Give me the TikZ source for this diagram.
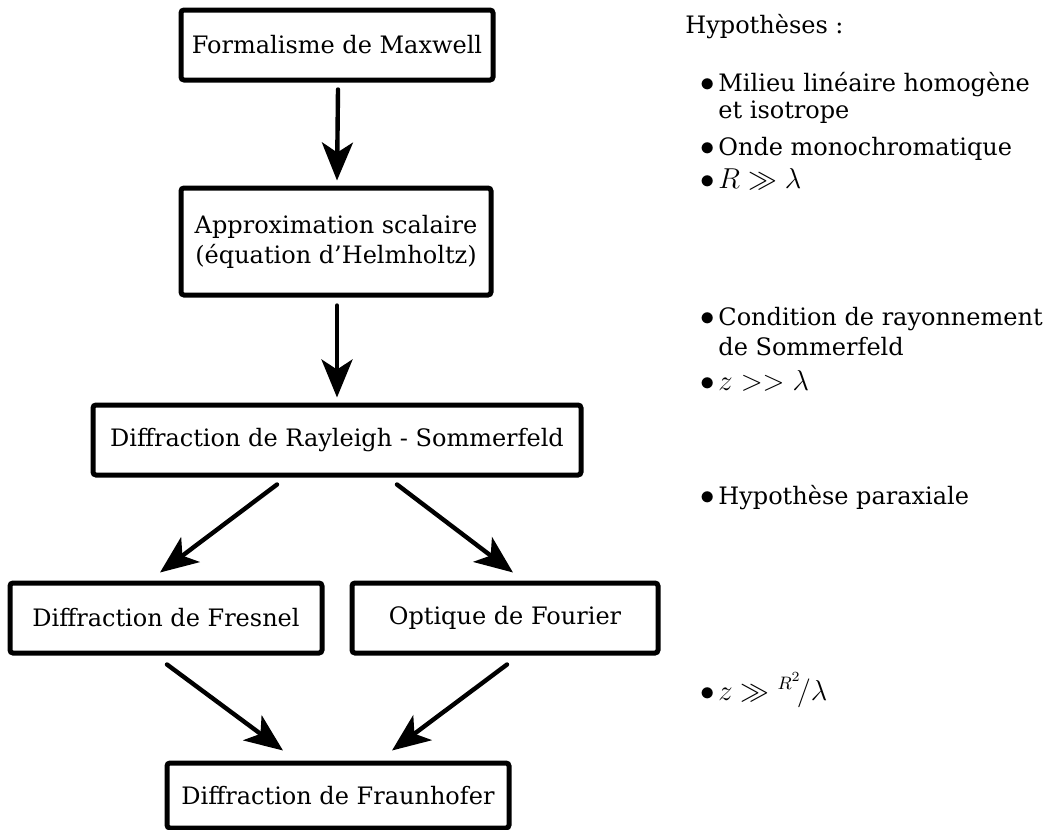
\documentclass[tikz,border=0pt]{standalone}
\usepackage{fontspec}
\setmainfont{DejaVu Serif}
\DeclareMathSizes{12}{13.5}{9.5}{7}
\usetikzlibrary{arrows.meta}
\begin{document}
\begin{tikzpicture}[x=0.5pt,y=-0.5pt,
  box/.style={draw, line width=2.5pt, rounded corners=1.5pt, minimum height=35pt,
    inner sep=0pt, align=center, font=\fontsize{12}{15}\selectfont},
  arr/.style={line width=2.2pt, line cap=round, -{Stealth[length=19pt,width=15.5pt,inset=5pt]}},
  hyp/.style={anchor=base west, inner sep=0pt, font=\fontsize{12}{15}\selectfont}]
\useasboundingbox (0,0) rectangle (1061,830);
% boxes
\node[box, minimum width=156pt] (b1) at (337,45) {Formalisme de Maxwell};
\node[box, minimum width=155pt, minimum height=53.5pt] (b2) at (336,241.5) {Approximation scalaire\\(équation d'Helmholtz)};
\node[box, minimum width=244pt] (b3) at (337,440) {Diffraction de Rayleigh - Sommerfeld};
\node[box, minimum width=156pt] (fr) at (166,618) {Diffraction de Fresnel};
\node[box, minimum width=153pt] (fo) at (505,618) {Optique de Fourier};
\node[box, minimum width=171pt, minimum height=32.5pt] (fh) at (338,795.5) {Diffraction de Fraunhofer};
% arrows
\draw[arr] ([xshift=0.5pt,yshift=-3.5pt]b1.south) -- ([xshift=0.5pt,yshift=2.5pt]b2.north);
\draw[arr] ([xshift=0.5pt,yshift=-4pt]b2.south) -- ([yshift=2.5pt]b3.north);
\draw[arr] ([xshift=-30pt,yshift=-3.5pt]b3.south) -- ([xshift=-3pt,yshift=4pt]fr.north);
\draw[arr] ([xshift=30pt,yshift=-3.5pt]b3.south) -- ([xshift=4pt,yshift=4pt]fo.north);
\draw[arr] ([xshift=0.5pt,yshift=-4.5pt]fr.south) -- ([xshift=-27.5pt,yshift=5pt]fh.north);
\draw[arr] ([xshift=1pt,yshift=-4.5pt]fo.south) -- ([xshift=27pt,yshift=5pt]fh.north);
% hypotheses
\node[hyp] (h0) at (685,33) {Hypothèses~:};
\node[hyp] (h1) at (718,91) {\llap{$\bullet$\,}Milieu linéaire homogène};
\node[hyp] (h1b) at (718,118) {et isotrope};
\node[hyp] (h2) at (718,155) {\llap{$\bullet$\,}Onde monochromatique};
\node[hyp] (h3) at (718,188) {\llap{$\bullet$\,}$R \gg \lambda$};
\node[hyp] (h4) at (718,325) {\llap{$\bullet$\,}Condition de rayonnement};
\node[hyp] (h4b) at (718,355) {de Sommerfeld};
\node[hyp] (h5) at (718,390) {\llap{$\bullet$\,}$z >> \lambda$};
\node[hyp] (h6) at (718,504) {\llap{$\bullet$\,}Hypothèse paraxiale};
\node[hyp] (h7) at (718,700) {\llap{$\bullet$\,}$z \gg {}^{R^2}\!/\lambda$};
\end{tikzpicture}
\end{document}
